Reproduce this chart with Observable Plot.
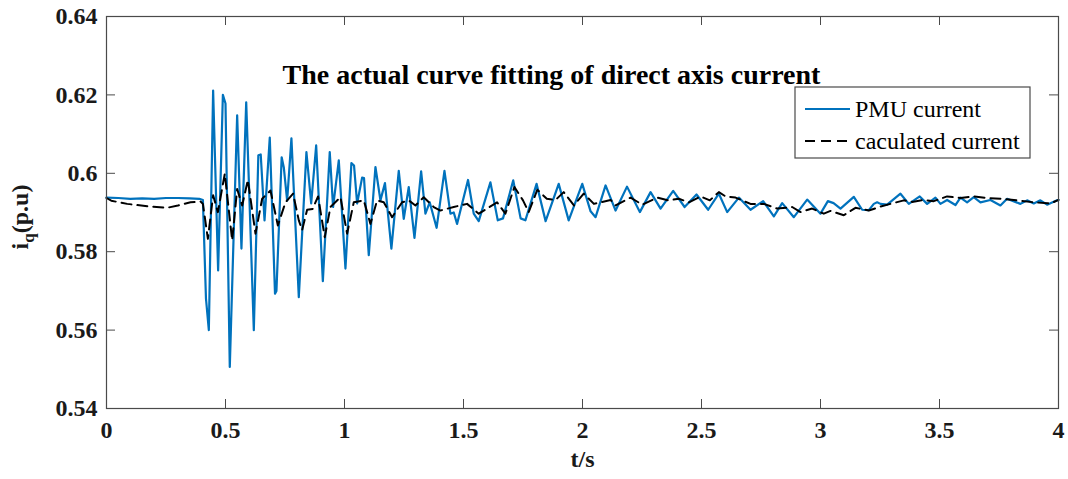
<!DOCTYPE html>
<html><head><meta charset="utf-8">
<script src="https://cdn.jsdelivr.net/npm/d3@7"></script>
<script src="https://cdn.jsdelivr.net/npm/@observablehq/plot@0.6"></script>
<style>body{margin:0;background:#fff;} svg{display:block;}</style>
</head><body><div id="chart"></div>
<script>
const titleText = "The actual curve fitting of direct axis current";
const xLabel = "t/s";
const seriesNames = ["PMU current", "caculated current"];
const xTicks = [0, 0.5, 1, 1.5, 2, 2.5, 3, 3.5, 4];
const xTickLabels = ["0", "0.5", "1", "1.5", "2", "2.5", "3", "3.5", "4"];
const yTicks = [0.54, 0.56, 0.58, 0.6, 0.62, 0.64];
const yTickLabels = ["0.54", "0.56", "0.58", "0.6", "0.62", "0.64"];

const pmuT = [0, 0.05, 0.1, 0.15, 0.2, 0.25, 0.3, 0.35, 0.39, 0.405,
  0.418, 0.430, 0.448, 0.469, 0.489, 0.500, 0.518, 0.549, 0.567, 0.587, 0.619, 0.638, 0.648, 0.664, 0.686, 0.708, 0.714, 0.736, 0.745, 0.759, 0.777, 0.808,
  0.840, 0.860, 0.881, 0.909, 0.938, 0.952, 0.976, 1.004, 1.029, 1.040, 1.053, 1.074, 1.082, 1.102, 1.130, 1.151, 1.170, 1.197, 1.228, 1.249, 1.270, 1.294,
  1.322, 1.340, 1.358, 1.387, 1.420, 1.445, 1.459, 1.473, 1.519, 1.543, 1.564, 1.613, 1.644, 1.666, 1.709, 1.740, 1.760, 1.807, 1.845, 1.900, 1.942, 1.999,
  2.034, 2.055, 2.097, 2.139, 2.187, 2.241, 2.286, 2.328, 2.381, 2.429, 2.479, 2.528, 2.573, 2.608, 2.657, 2.706, 2.759, 2.804, 2.839, 2.888, 2.944, 3.000,
  3.031, 3.055, 3.084, 3.140, 3.175, 3.203, 3.224, 3.238, 3.252, 3.280, 3.336, 3.371, 3.417, 3.448, 3.483, 3.504, 3.532, 3.567, 3.588, 3.616, 3.644, 3.672,
  3.714, 3.756, 3.784, 3.840, 3.868, 3.896, 3.924, 3.952, 3.994, 4.0];
const pmuI = [0.5938, 0.5937, 0.5935, 0.5936, 0.5935, 0.5937, 0.5937, 0.5936, 0.5935, 0.5932,
  0.5680, 0.5600, 0.6211, 0.5752, 0.6200, 0.6178, 0.5506, 0.6148, 0.5808, 0.6181, 0.5600, 0.6046, 0.6048, 0.5880, 0.6091, 0.5693, 0.5700, 0.6041, 0.6015, 0.5930, 0.6089, 0.5684,
  0.6054, 0.5923, 0.6071, 0.5725, 0.6054, 0.5914, 0.6033, 0.5757, 0.6026, 0.6020, 0.5923, 0.5989, 0.5988, 0.5791, 0.6016, 0.5931, 0.5975, 0.5808, 0.6006, 0.5884, 0.5965, 0.5835,
  0.6005, 0.5897, 0.5926, 0.5861, 0.6006, 0.5897, 0.5900, 0.5871, 0.5983, 0.5897, 0.5878, 0.5977, 0.5880, 0.5885, 0.5982, 0.5885, 0.5880, 0.5973, 0.5878, 0.5973, 0.5880, 0.5973,
  0.5903, 0.5888, 0.5969, 0.5905, 0.5966, 0.5901, 0.5952, 0.5910, 0.5955, 0.5914, 0.5946, 0.5907, 0.5948, 0.5901, 0.5938, 0.5907, 0.5929, 0.5890, 0.5924, 0.5888, 0.5933, 0.5897,
  0.5929, 0.5924, 0.5910, 0.5940, 0.5907, 0.5906, 0.5922, 0.5926, 0.5922, 0.5920, 0.5948, 0.5922, 0.5941, 0.5922, 0.5938, 0.5922, 0.5932, 0.5919, 0.5938, 0.5926, 0.5939, 0.5926,
  0.5932, 0.5918, 0.5935, 0.5922, 0.5931, 0.5923, 0.5931, 0.5920, 0.5931, 0.5932];

const calcT = [0, 0.02, 0.087, 0.171, 0.255, 0.30, 0.353, 0.395, 0.405, 0.426, 0.448, 0.468, 0.497, 0.528, 0.549, 0.570, 0.594, 0.626, 0.654, 0.689, 0.720, 0.752, 0.784, 0.808,
  0.822, 0.843, 0.866, 0.889, 0.917, 0.941, 0.983, 1.011, 1.039, 1.081, 1.109, 1.137, 1.165, 1.200, 1.242, 1.270, 1.298, 1.333, 1.375, 1.403, 1.459, 1.515, 1.564, 1.641, 1.676,
  1.714, 1.750, 1.774, 1.810, 1.850, 1.887, 1.921, 1.964, 2.005, 2.048, 2.118, 2.139, 2.202, 2.251, 2.314, 2.360, 2.405, 2.447, 2.496, 2.535, 2.573, 2.601, 2.643, 2.706, 2.762,
  2.818, 2.881, 2.916, 2.965, 3.014, 3.042, 3.098, 3.147, 3.203, 3.252, 3.294, 3.350, 3.385, 3.434, 3.476, 3.532, 3.588, 3.644, 3.700, 3.756, 3.826, 3.896, 3.966, 4.0];
const calcI = [0.5937, 0.5930, 0.5922, 0.5916, 0.5912, 0.5918, 0.5926, 0.5928, 0.5922, 0.5833, 0.5944, 0.5901, 0.5999, 0.5829, 0.5960, 0.5918, 0.5983, 0.5846, 0.5935, 0.5956, 0.5867, 0.5926, 0.5948, 0.5880,
  0.5855, 0.5907, 0.5909, 0.5941, 0.5837, 0.5914, 0.5939, 0.5846, 0.5926, 0.5931, 0.5871, 0.5931, 0.5926, 0.5888, 0.5926, 0.5931, 0.5918, 0.5939, 0.5914, 0.5905, 0.5914, 0.5922, 0.5897, 0.5926, 0.5897,
  0.5965, 0.5931, 0.5901, 0.5958, 0.5935, 0.5932, 0.5952, 0.5918, 0.5948, 0.5922, 0.5932, 0.5918, 0.5938, 0.5920, 0.5938, 0.5931, 0.5935, 0.5926, 0.5941, 0.5931, 0.5952, 0.5941, 0.5938, 0.5922, 0.5922,
  0.5910, 0.5914, 0.5901, 0.5910, 0.5897, 0.5904, 0.5893, 0.5912, 0.5905, 0.5915, 0.5922, 0.5931, 0.5927, 0.5932, 0.5929, 0.5941, 0.5937, 0.5941, 0.5937, 0.5935, 0.5931, 0.5926, 0.5923, 0.5932];

const pmu = pmuT.map((t, i) => ({t, v: pmuI[i]}));
const calc = calcT.map((t, i) => ({t, v: calcI[i]}));

const W = 1068, H = 479, mL = 106, mR = 10, mT = 16, mB = 71;
const innerW = W - mL - mR, innerH = H - mT - mB;
const tickLen = 9;
const font = "'Liberation Serif', 'Times New Roman', serif";
const axisColor = "#4a4a4a";
const blue = "#0072BD";

const chart = Plot.plot({
  width: W, height: H,
  marginLeft: mL, marginRight: mR, marginTop: mT, marginBottom: mB,
  style: {fontFamily: font, background: "#fff", color: "#1a1a1a"},
  x: {domain: [0, 4]},
  y: {domain: [0.54, 0.64]},
  marks: [
    Plot.ruleX(xTicks, {x: d => d, insetTop: innerH - tickLen, stroke: axisColor}),
    Plot.ruleX(xTicks, {x: d => d, insetBottom: innerH - tickLen, stroke: axisColor}),
    Plot.ruleY(yTicks, {y: d => d, insetRight: innerW - tickLen, stroke: axisColor}),
    Plot.ruleY(yTicks, {y: d => d, insetLeft: innerW - tickLen, stroke: axisColor}),
    Plot.axisX(xTicks, {tickSize: 0, tickPadding: 12, tickFormat: d => xTickLabels[xTicks.indexOf(d)], fontSize: 24, fontWeight: "bold", label: null}),
    Plot.axisY(yTicks, {tickSize: 0, tickPadding: 9, tickFormat: d => yTickLabels[yTicks.indexOf(d)], fontSize: 24, fontWeight: "bold", label: null}),
    Plot.line(pmu, {x: "t", y: "v", stroke: blue, strokeWidth: 2.2}),
    Plot.line(calc, {x: "t", y: "v", stroke: "#000", strokeWidth: 2, strokeDasharray: "10,6"}),
    Plot.frame({stroke: axisColor, strokeWidth: 1.2}),
    Plot.text([titleText], {frameAnchor: "top", dx: -31, dy: 48, fontSize: 28, fontWeight: "bold", fill: "#000"}),
    Plot.text([xLabel], {frameAnchor: "bottom", dy: 58, fontSize: 24, fontWeight: "bold", fill: "#1a1a1a"})
  ]
});

document.getElementById("chart").appendChild(chart);
const svg = d3.select(chart);

// y-axis label with subscript
const yl = svg.append("text")
  .attr("transform", "translate(28,217) rotate(-90)")
  .attr("text-anchor", "middle")
  .attr("font-family", font).attr("font-weight", "bold").attr("font-size", 24).attr("fill", "#1a1a1a");
yl.append("tspan").text("i");
yl.append("tspan").attr("font-size", 17).attr("dy", 6).text("q");
yl.append("tspan").attr("dy", -6).text("(p.u)");

// legend
const lg = svg.append("g").attr("text-anchor", "start");
lg.append("rect").attr("x", 795).attr("y", 87).attr("width", 235).attr("height", 71)
  .attr("fill", "#fff").attr("stroke", axisColor).attr("stroke-width", 1.2);
lg.append("line").attr("x1", 805).attr("x2", 850).attr("y1", 109).attr("y2", 109)
  .attr("stroke", blue).attr("stroke-width", 2.2);
lg.append("line").attr("x1", 805).attr("x2", 852).attr("y1", 141).attr("y2", 141)
  .attr("stroke", "#000").attr("stroke-width", 2).attr("stroke-dasharray", "10,6");
lg.append("text").attr("x", 855).attr("y", 117).attr("text-anchor", "start").attr("font-family", font).attr("font-size", 24).attr("fill", "#000").text(seriesNames[0]);
lg.append("text").attr("x", 855).attr("y", 149).attr("text-anchor", "start").attr("font-family", font).attr("font-size", 24).attr("fill", "#000").text(seriesNames[1]);
</script>
</body></html>
